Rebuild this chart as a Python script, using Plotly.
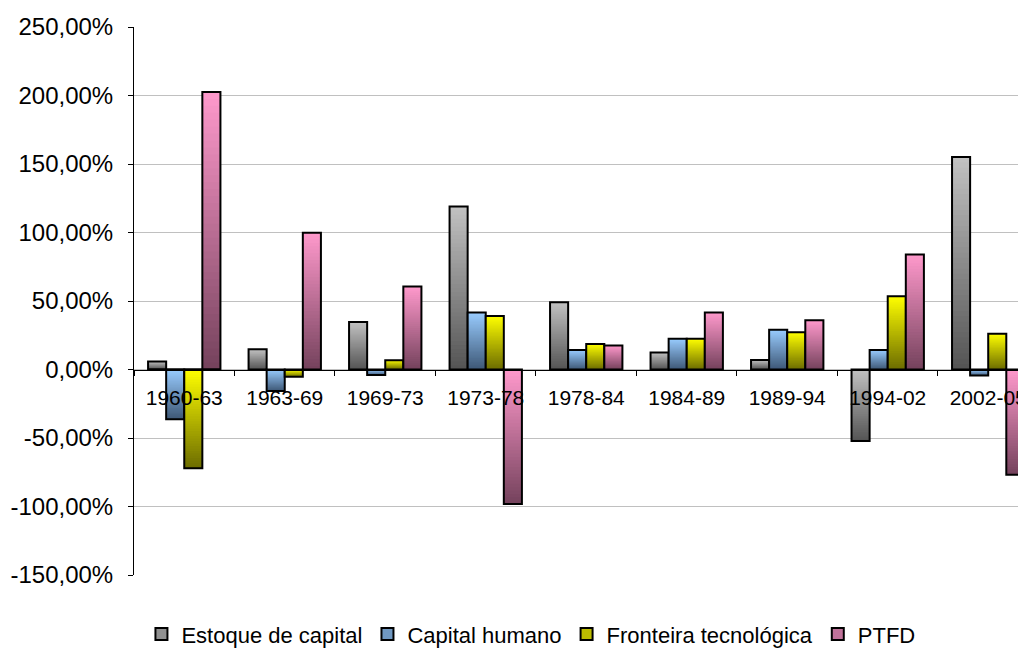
import plotly.graph_objects as go

categories = ["1960-63", "1963-69", "1969-73", "1973-78", "1978-84",
              "1984-89", "1989-94", "1994-02", "2002-05"]

estoque = [5.8, 14.7, 34.6, 119.0, 49.1, 12.5, 7.0, -52.2, 155.2]
capital_humano = [-36.3, -15.7, -4.1, 41.6, 14.3, 22.5, 29.0, 14.3, -4.4]
fronteira = [-72.0, -5.3, 6.8, 39.0, 18.6, 22.5, 27.2, 53.5, 26.1]
ptfd = [202.6, 99.9, 60.5, -98.2, 17.5, 41.6, 36.0, 83.9, -76.9]

series_names = ["Estoque de capital", "Capital humano", "Fronteira tecnológica", "PTFD"]
series_values = [estoque, capital_humano, fronteira, ptfd]
# (light top colour, dark bottom colour)
series_colors = [
    ((194, 194, 194), (84, 84, 84)),
    ((153, 204, 255), (62, 88, 118)),
    ((255, 255, 0), (108, 108, 0)),
    ((255, 153, 204), (116, 66, 92)),
]

y_tick_values = [-150, -100, -50, 0, 50, 100, 150, 200, 250]
y_tick_labels = ["-150,00%", "-100,00%", "-50,00%", "0,00%", "50,00%",
                 "100,00%", "150,00%", "200,00%", "250,00%"]

N_SEG = 40


def mix(c1, c2, t):
    return "rgb(%d,%d,%d)" % tuple(round(c2[i] + (c1[i] - c2[i]) * t) for i in range(3))


fig = go.Figure()

for name, vals, (light, dark) in zip(series_names, series_values, series_colors):
    # gradient: nested bars from 0, drawn from the full bar down to the smallest
    for k in range(N_SEG - 1, -1, -1):
        heights = [v * (k + 1) / N_SEG for v in vals]
        cols = []
        for v in vals:
            t = (k + 0.5) / N_SEG
            if v < 0:
                t = 1 - t
            cols.append(mix(light, dark, t))
        fig.add_trace(go.Bar(
            x=categories, y=heights, base=[0] * len(vals), offsetgroup=name,
            marker=dict(color=cols, line=dict(width=0)),
            showlegend=False, hoverinfo="skip",
        ))
    # outline
    fig.add_trace(go.Bar(
        x=categories, y=vals, base=[0] * len(vals), offsetgroup=name,
        marker=dict(color="rgba(0,0,0,0)", line=dict(color="black", width=2)),
        showlegend=False, name=name,
    ))
    # legend entry
    fig.add_trace(go.Bar(
        x=[categories[0]], y=[0], offsetgroup=name, name=name,
        marker=dict(color=mix(light, dark, 0.55), line=dict(color="black", width=2)),
        showlegend=True, hoverinfo="skip",
    ))

# page body has an 8px margin, so the figure is sized to end at the window edge
fig.update_layout(
    width=1018, height=640,
    margin=dict(l=126, r=0, t=19, b=73, autoexpand=False),
    paper_bgcolor="white", plot_bgcolor="white",
    barmode="group", bargap=0.28, bargroupgap=0,
    font=dict(family="Liberation Sans, Arial, sans-serif", color="black"),
    legend=dict(orientation="h", x=0.445, xanchor="center", y=-0.108, yanchor="middle",
                font=dict(size=22), itemwidth=30, traceorder="normal"),
    showlegend=True,
)

fig.update_xaxes(
    type="category", range=[-0.5, 8.376],
    anchor="free", position=0.375, automargin=False,
    showline=True, linecolor="black", linewidth=1,
    ticks="outside", tickson="boundaries", ticklen=5, tickcolor="black",
    tickfont=dict(size=21), ticklabelstandoff=9,
    showgrid=False, zeroline=False,
)
fig.update_yaxes(
    range=[-150, 250], tickvals=y_tick_values, ticktext=y_tick_labels,
    automargin=False,
    showline=True, linecolor="black", linewidth=1,
    ticks="outside", ticklen=5, tickcolor="black",
    tickfont=dict(size=24), ticklabelstandoff=10,
    showgrid=True, gridcolor="#c0c0c0", gridwidth=1,
    zeroline=False,
)

fig.write_html("out.html")
